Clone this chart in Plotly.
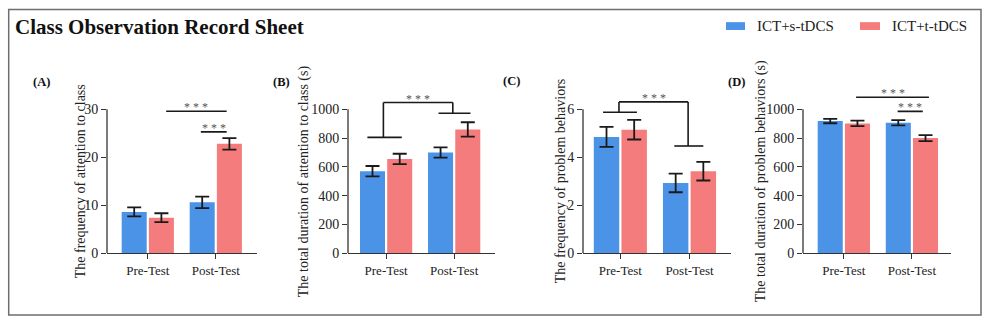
import plotly.graph_objects as go

# ---------------- data ----------------
categories = ["Pre-Test", "Post-Test"]
series_names = ["ICT+s-tDCS", "ICT+t-tDCS"]

# (A) frequency of attention to class
attn_freq_s = [8.6, 10.6]
attn_freq_s_err = [0.95, 1.2]
attn_freq_t = [7.4, 22.8]
attn_freq_t_err = [0.92, 1.2]

# (B) total duration of attention to class (s)
attn_dur_s = [570, 700]
attn_dur_s_err = [36, 36]
attn_dur_t = [655, 860]
attn_dur_t_err = [36, 50]

# (C) frequency of problem behaviors
prob_freq_s = [4.85, 2.93]
prob_freq_s_err = [0.42, 0.39]
prob_freq_t = [5.15, 3.42]
prob_freq_t_err = [0.41, 0.39]

# (D) total duration of problem behaviors (s)
prob_dur_s = [918, 907]
prob_dur_s_err = [15, 18]
prob_dur_t = [902, 800]
prob_dur_t_err = [19, 21]

# ---------------- style ----------------
W, H = 1000, 335
FONT = "'Liberation Serif', Tinos, 'Times New Roman', 'DejaVu Serif', serif"
BLUE = "#4B93E6"
RED = "#F47C7C"
AXIS = "#333333"
Y_ZERO_PX = 259.3      # pixel row of the value 0
Y_TOP_TICK_PX = 112.0  # pixel row of the highest tick
Y_DOM_TOP_PX = 80.0    # top of the plotting area (room for significance marks)


def py(px):
    return 1 - px / H


panels = [
    dict(label="(A)", label_px=(41.5, 84), title="The frequency of attention to class",
         title_dx=-27, ticks=[0, 10, 20, 30], xdom=(107, 256.6), xrange=[-0.6, 1.6],
         s=attn_freq_s, se=attn_freq_s_err, t=attn_freq_t, te=attn_freq_t_err,
         lines=[[(0.27, 29.6), (1.16, 29.6)], [(0.78, 25.3), (1.16, 25.3)]],
         stars=[(0.715, 29.6), (0.97, 25.3)]),
    dict(label="(B)", label_px=(281, 84), title="The total duration of attention to class (s)",
         title_dx=-44, ticks=[0, 200, 400, 600, 800, 1000], xdom=(348, 495), xrange=[-0.56, 1.6],
         s=attn_dur_s, se=attn_dur_s_err, t=attn_dur_t, te=attn_dur_t_err,
         lines=[[(-0.275, 805), (0.23, 805)],
                [(-0.04, 805), (-0.04, 1047), (0.98, 1047), (0.98, 973)],
                [(0.77, 973), (1.24, 973)]],
         stars=[(0.47, 1047)]),
    dict(label="(C)", label_px=(511.5, 83), title="The frequency of problem behaviors",
         title_dx=-23, ticks=[0, 2, 4, 6], xdom=(583, 731), xrange=[-0.54, 1.6],
         s=prob_freq_s, se=prob_freq_s_err, t=prob_freq_t, te=prob_freq_t_err,
         lines=[[(-0.25, 5.88), (0.24, 5.88)],
                [(-0.02, 5.88), (-0.02, 6.31), (0.98, 6.31), (0.98, 4.47)],
                [(0.78, 4.47), (1.2, 4.47)]],
         stars=[(0.48, 6.31)]),
    dict(label="(D)", label_px=(736, 84), title="The total duration of problem behaviors (s)",
         title_dx=-42, ticks=[0, 200, 400, 600, 800, 1000], xdom=(803, 950.7), xrange=[-0.6, 1.57],
         s=prob_dur_s, se=prob_dur_s_err, t=prob_dur_t, te=prob_dur_t_err,
         lines=[[(0.18, 1084), (1.25, 1084)], [(0.79, 986), (1.16, 986)]],
         stars=[(0.715, 1084), (0.975, 986)]),
]

fig = go.Figure()
shapes = []
annotations = []
layout_axes = {}

for i, p in enumerate(panels):
    n = "" if i == 0 else str(i + 1)
    xa, ya = "x" + n, "y" + n
    top = p["ticks"][-1]
    ymax = top * (Y_ZERO_PX - Y_DOM_TOP_PX) / (Y_ZERO_PX - Y_TOP_TICK_PX)

    for vals, errs, col, name in ((p["s"], p["se"], BLUE, series_names[0]),
                                  (p["t"], p["te"], RED, series_names[1])):
        fig.add_trace(go.Bar(
            x=[0, 1], y=vals, name=name, marker=dict(color=col, line=dict(width=0)),
            error_y=dict(type="data", array=errs, visible=True, color="#1a1a1a",
                         thickness=1.8, width=7),
            xaxis=xa, yaxis=ya, showlegend=False, offsetgroup=name,
        ))

    layout_axes["xaxis" + n] = dict(
        domain=[p["xdom"][0] / W, p["xdom"][1] / W], range=p["xrange"], anchor=ya,
        tickvals=[0, 1], ticktext=categories, showline=True, linecolor=AXIS, linewidth=1.3,
        ticks="outside", ticklen=5, tickwidth=1.3, tickcolor=AXIS, showgrid=False,
        zeroline=False, tickfont=dict(family=FONT, size=13, color="#222"), fixedrange=True,
    )
    layout_axes["yaxis" + n] = dict(
        domain=[py(Y_ZERO_PX), py(Y_DOM_TOP_PX)], range=[0, ymax], anchor=xa,
        tickvals=p["ticks"], showline=False, showgrid=False, zeroline=False,
        ticks="outside", ticklen=5, tickwidth=1.3, tickcolor=AXIS,
        tickfont=dict(family=FONT, size=14, color="#222"), fixedrange=True,
    )

    # y axis line, only up to the highest tick
    shapes.append(dict(type="line", xref=xa + " domain", yref=ya, x0=0, x1=0, y0=0, y1=top,
                       line=dict(color=AXIS, width=1.3)))

    # significance lines / brackets
    for pts in p["lines"]:
        for (x0, y0), (x1, y1) in zip(pts[:-1], pts[1:]):
            shapes.append(dict(type="line", xref=xa, yref=ya, x0=x0, x1=x1, y0=y0, y1=y1,
                               line=dict(color="#1a1a1a", width=1.6)))
    for sx, sy in p["stars"]:
        annotations.append(dict(x=sx, y=sy, xref=xa, yref=ya, text="* * *", showarrow=False,
                                xanchor="center", yanchor="bottom", yshift=-5,
                                font=dict(family=FONT, size=12, color="#555")))

    # y axis title
    annotations.append(dict(x=p["xdom"][0] / W, xshift=p["title_dx"],
                            y=py((Y_ZERO_PX + Y_TOP_TICK_PX) / 2), xref="paper", yref="paper",
                            text=p["title"], textangle=-90, showarrow=False,
                            xanchor="center", yanchor="middle",
                            font=dict(family=FONT, size=14, color="#222")))
    # panel label
    annotations.append(dict(x=p["label_px"][0] / W, y=py(p["label_px"][1]), xref="paper",
                            yref="paper", text="<b>%s</b>" % p["label"], showarrow=False,
                            xanchor="center", yanchor="middle",
                            font=dict(family=FONT, size=12.5, color="#111")))

# figure title
annotations.append(dict(x=13 / W, y=py(28), xref="paper", yref="paper",
                        text="<b>Class Observation Record Sheet</b>", showarrow=False,
                        xanchor="left", yanchor="middle",
                        font=dict(family=FONT, size=21, color="#111")))

# legend swatches and labels
for (sx0, sx1, tx), col, name in (((726, 745, 755), BLUE, series_names[0]),
                                  ((860, 880, 890), RED, series_names[1])):
    shapes.append(dict(type="rect", xref="paper", yref="paper", x0=sx0 / W, x1=sx1 / W,
                       y0=py(30.7), y1=py(22.7), fillcolor=col, line=dict(width=0)))
    annotations.append(dict(x=tx / W, y=py(26.5), xref="paper", yref="paper", text=name,
                            showarrow=False, xanchor="left", yanchor="middle",
                            font=dict(family=FONT, size=15, color="#222")))

# outer frame
shapes.append(dict(type="rect", xref="paper", yref="paper", x0=8.7 / W, x1=981 / W,
                   y0=py(322.7), y1=py(9.7), line=dict(color="#6e6e6e", width=1.5),
                   fillcolor="rgba(0,0,0,0)"))

fig.update_layout(
    width=W, height=H, margin=dict(l=0, r=0, t=0, b=0),
    paper_bgcolor="white", plot_bgcolor="white",
    barmode="group", bargap=0.2, bargroupgap=0.08,
    shapes=shapes, annotations=annotations, showlegend=False,
    font=dict(family=FONT),
    **layout_axes,
)

fig.write_html("out.html", config={"displayModeBar": False})
